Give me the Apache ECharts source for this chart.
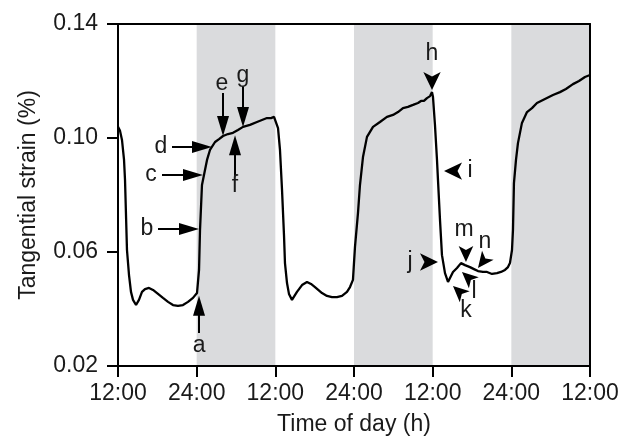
<!DOCTYPE html>
<html><head><meta charset="utf-8">
<script src="https://cdn.jsdelivr.net/npm/echarts@6/dist/echarts.min.js"></script>
<style>html,body{margin:0;padding:0;background:#fff}#c{width:632px;height:445px}</style>
</head><body><div id="c"></div>
<script>
// Time since first 12:00 (hours)
const hours = [0, 0.31, 0.61, 0.92, 1.07, 1.22, 1.37, 1.68, 1.98, 2.29,
  2.75, 3.20, 3.66, 4.12, 4.73, 5.34, 6.10, 6.86, 7.63, 8.39,
  9.15, 9.91, 10.68, 11.44, 12.05, 12.20, 12.36, 12.51, 12.81, 13.27,
  13.58, 14.03, 14.80, 15.41, 16.02, 16.78, 17.54, 18.30, 19.07, 20.13,
  21.20, 21.96, 22.73, 23.34, 23.80, 24.10, 24.41, 24.71, 25.02, 25.32,
  25.47, 25.78, 26.08, 26.54, 27.30, 28.07, 28.83, 29.44, 30.05, 31.12,
  31.88, 32.64, 33.40, 34.17, 34.93, 35.39, 35.84, 36.15, 36.61, 36.91,
  37.37, 37.98, 38.90, 39.96, 41.03, 41.95, 42.71, 43.47, 44.23, 45.00,
  45.76, 46.22, 46.67, 47.13, 47.60, 47.90, 48.05, 48.35, 48.66, 48.81,
  49.12, 49.42, 49.88, 50.34, 50.64, 51.10, 51.71, 52.32, 52.93, 53.69,
  54.30, 54.91, 55.67, 56.29, 57.05, 57.81, 58.42, 59.03, 59.49, 59.79,
  60.10, 60.25, 60.40, 60.71, 61.01, 61.62, 62.39, 63.15, 63.91, 65.13,
  66.35, 67.42, 68.33, 69.40, 70.32, 71.23, 72];
// Tangential strain (%)
const strain = [0.1039, 0.1025, 0.0993, 0.0923, 0.0853, 0.0730, 0.0607, 0.0519, 0.0460, 0.0432,
  0.0414, 0.0432, 0.0460, 0.0470, 0.0474, 0.0467, 0.0453, 0.0439, 0.0425, 0.0414,
  0.0411, 0.0414, 0.0425, 0.0439, 0.0456, 0.0449, 0.0537, 0.0677, 0.0835, 0.0888,
  0.0923, 0.0958, 0.0986, 0.0996, 0.1007, 0.1014, 0.1018, 0.1028, 0.1039, 0.1046,
  0.1056, 0.1063, 0.1070, 0.1070, 0.1074, 0.1067, 0.1035, 0.0958, 0.0818, 0.0660,
  0.0561, 0.0491, 0.0453, 0.0432, 0.0460, 0.0484, 0.0495, 0.0488, 0.0477, 0.0456,
  0.0446, 0.0442, 0.0442, 0.0446, 0.0460, 0.0477, 0.0502, 0.0618, 0.0737, 0.0835,
  0.0933, 0.1004, 0.1039, 0.1056, 0.1074, 0.1081, 0.1091, 0.1105, 0.1109, 0.1116,
  0.1123, 0.1130, 0.1130, 0.1140, 0.1147, 0.1161, 0.1144, 0.1046, 0.0923, 0.0853,
  0.0712, 0.0589, 0.0526, 0.0495, 0.0502, 0.0530, 0.0544, 0.0561, 0.0554, 0.0547,
  0.0540, 0.0533, 0.0530, 0.0530, 0.0523, 0.0526, 0.0530, 0.0537, 0.0547, 0.0561,
  0.0607, 0.0677, 0.0842, 0.0923, 0.0982, 0.1053, 0.1091, 0.1105, 0.1123, 0.1137,
  0.1151, 0.1161, 0.1172, 0.1189, 0.1200, 0.1214, 0.1221];

const xTickLabels = ['12:00', '24:00', '12:00', '24:00', '12:00', '24:00', '12:00'];
const yTickValues = [0.02, 0.06, 0.10, 0.14];
const darkStart = [12, 36, 60];
const darkEnd = [24, 48, 72];

// Annotation letters: label anchor (hours, strain)
const letters = ['a','b','c','d','e','f','g','h','i','j','k','l','m','n'];
const letterX = [12.36, 4.42, 5.03, 6.56, 15.86, 17.85, 19.07, 47.9, 53.69, 44.54, 53.08, 54.30, 52.78, 55.98];
const letterY = [0.0270, 0.0681, 0.0870, 0.0968, 0.1189, 0.0832, 0.1218, 0.1295, 0.0884, 0.0565, 0.0393, 0.0460, 0.0677, 0.0635];
// Arrow tails and ends (hours, strain)
const tailX = [12.36, 6.10, 6.71, 8.24, 16.02, 17.85, 19.07, 47.9, 52.47, 45.91, 53.08, 54.15, 53.08, 56.44];
const tailY = [0.0316, 0.0681, 0.0870, 0.0968, 0.1158, 0.0867, 0.1182, 0.1239, 0.0884, 0.0565, 0.0439, 0.0495, 0.0625, 0.0589];
const headX = [12.36, 10.83, 11.44, 12.81, 16.02, 17.85, 19.07, 47.9, 49.73, 48.81, 51.10, 52.47, 53.08, 54.91];
const headY = [0.0411, 0.0681, 0.0870, 0.0968, 0.1042, 0.0975, 0.1074, 0.1168, 0.0884, 0.0565, 0.0481, 0.0530, 0.0565, 0.0544];
const withShaft = [true, true, true, true, true, true, true, false, false, false, false, false, false, false];

const FONT = '"Liberation Sans", Arial, Helvetica, sans-serif';
const FS = 23;
const TXT = '#1a1a1a';

const seriesData = hours.map((h, i) => [h, strain[i]]);
const areas = darkStart.map((s, i) => [{ xAxis: s }, { xAxis: darkEnd[i] }]);

const arrowLines = letters.map((L, i) => {
  const shaft = withShaft[i];
  const big = i < 10;
  const ls = shaft ? { color: '#000', width: 2, type: 'solid' } : { color: '#000', width: 0, type: 'solid' };
  return [
    { coord: [tailX[i], tailY[i]], symbol: 'none', lineStyle: ls },
    { coord: [headX[i], headY[i]], symbol: shaft ? 'triangle' : 'arrow',
      symbolSize: shaft ? [12, 20] : (big ? [13, 18] : [11, 16]), lineStyle: ls }
  ];
});

const letterPoints = letters.map((L, i) => ({ name: L, coord: [letterX[i], letterY[i]] }));

const chart = echarts.init(document.getElementById('c'), null, { renderer: 'canvas' });
const axisLineStyle = { color: '#000', width: 2 };
chart.setOption({
  animation: false,
  backgroundColor: '#fff',
  grid: { left: 118, right: 42, top: 24, bottom: 79 },
  xAxis: [{
    type: 'value', min: 0, max: 72, interval: 12, z: 10,
    name: 'Time of day (h)', nameLocation: 'middle', nameGap: 47,
    nameTextStyle: { fontFamily: FONT, fontSize: FS, color: TXT },
    axisLine: { show: true, onZero: false, lineStyle: axisLineStyle },
    axisTick: { show: true, inside: false, length: 11, lineStyle: axisLineStyle },
    axisLabel: { margin: 16, fontFamily: FONT, fontSize: FS, color: TXT,
      formatter: v => xTickLabels[Math.round(v / 12)] },
    splitLine: { show: false }
  }, {
    type: 'value', min: 0, max: 72, position: 'top', z: 10,
    axisLine: { show: true, onZero: false, lineStyle: axisLineStyle },
    axisTick: { show: false }, axisLabel: { show: false }, splitLine: { show: false }
  }],
  yAxis: [{
    type: 'value', min: 0.02, max: 0.14, z: 10,
    name: 'Tangential strain (%)', nameLocation: 'middle', nameGap: 78,
    nameTextStyle: { fontFamily: FONT, fontSize: FS, color: TXT },
    axisLine: { show: true, onZero: false, lineStyle: axisLineStyle },
    axisTick: { show: true, inside: false, length: 11, customValues: yTickValues, lineStyle: axisLineStyle },
    axisLabel: { margin: 20, fontFamily: FONT, fontSize: FS, color: TXT, customValues: yTickValues,
      formatter: v => v.toFixed(2) },
    splitLine: { show: false }
  }, {
    type: 'value', min: 0.02, max: 0.14, position: 'right', z: 10,
    axisLine: { show: true, onZero: false, lineStyle: axisLineStyle },
    axisTick: { show: false }, axisLabel: { show: false }, splitLine: { show: false }
  }],
  series: [{
    type: 'line',
    data: seriesData,
    showSymbol: false,
    symbol: 'none',
    lineStyle: { color: '#000', width: 2.3 },
    z: 5,
    markArea: {
      silent: true,
      itemStyle: { color: '#dadbdd' },
      data: areas
    },
    markLine: {
      silent: true,
      animation: false,
      label: { show: false },
      lineStyle: { color: '#000', width: 2, type: 'solid' },
      data: arrowLines
    },
    markPoint: {
      silent: true,
      symbol: 'circle',
      symbolSize: 1,
      itemStyle: { color: 'rgba(0,0,0,0)' },
      label: { show: true, position: 'inside', formatter: '{b}', fontFamily: FONT, fontSize: FS, color: TXT },
      data: letterPoints
    }
  }]
});
</script></body></html>
